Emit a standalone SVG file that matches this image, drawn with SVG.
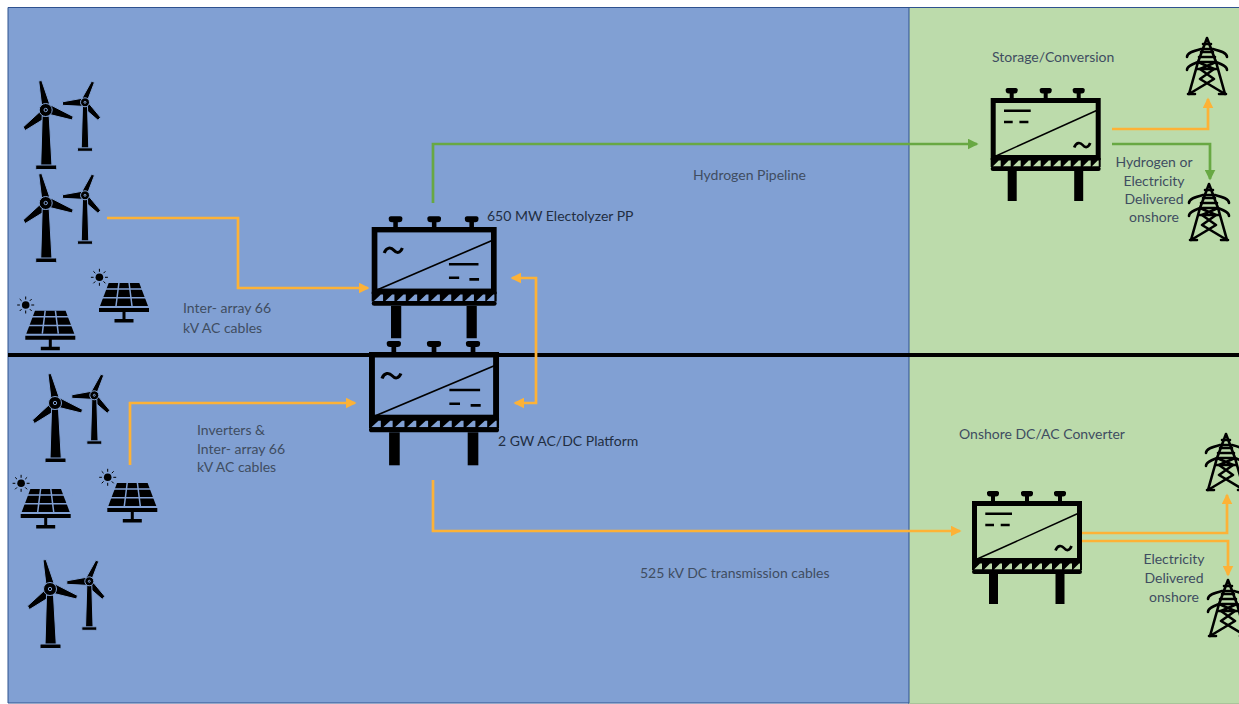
<svg xmlns="http://www.w3.org/2000/svg" width="1239" height="704" viewBox="0 0 1239 704">
<style>
.t{font-family:"Lato","Carlito","Open Sans",sans-serif;font-size:14px;fill:#3f4d61}
.d{fill:#222e42}
.m{text-anchor:middle}
.o,.g{fill:none;stroke-width:2.700}
.o{stroke:#fdb237}
.g{stroke:#68a843}
.blue{fill:#81a0d3;stroke:#81a0d3}
.green{fill:#bcdbab;stroke:#bcdbab}
</style>
<defs>
<marker id="ao" markerWidth="11" markerHeight="11" refX="6" refY="3.500" orient="auto-start-reverse" markerUnits="userSpaceOnUse" viewBox="0 0 7 7"><path d="M0 0L7 3.500L0 7Z" fill="#fdb237"/></marker>
<marker id="ag" markerWidth="11" markerHeight="11" refX="6" refY="3.500" orient="auto-start-reverse" markerUnits="userSpaceOnUse" viewBox="0 0 7 7"><path d="M0 0L7 3.500L0 7Z" fill="#68a843"/></marker>
<g id="turbine">
<g fill="#000">
<path d="M-7 -29L-4 -29.500L4 -6L-4 -4Z"/>
<path d="M5 -5L27.500 6.500L26.500 10L2 4Z"/>
<path d="M-4 0L-22.500 17L-20.500 20.500L3 6Z"/>
<path d="M-3.500 6L3.500 6L6.300 56L-5 56Z"/>
<rect x="-10" y="55" width="21" height="4.500" rx="1"/>
<circle r="6.500"/>
<circle r="3" fill="inherit" stroke="none"/>
<circle r="1.700"/>
</g>
<g fill="#000" transform="translate(39.300 -7.700)">
<path d="M6.500 -21L9.500 -20L3 -3L-3 -4Z"/>
<path d="M-3 -4L-22.500 -0.500L-22.500 3L-3 4Z"/>
<path d="M3 0L15.500 15L13 18L-2 5Z"/>
<path d="M-2.500 4L2.500 4L3.800 47L-3.800 47Z"/>
<rect x="-7.500" y="45.500" width="15" height="3.500" rx="1"/>
<circle r="4.500"/>
<circle r="2" fill="inherit" stroke="none"/>
<circle r="1"/>
</g>
</g>
<g id="solar">
<circle cx="0.400" cy="-5.700" r="3.800" fill="#000" stroke="none"/>
<path d="M0.400 -14.200V-11.200M0.400 -0.200V2.800M-8.100 -5.700H-5.400M6 -5.700H8.900M-5.600 -11.700L-3.700 -9.800M4.500 -1.600L6.400 0.300M-5.600 0.300L-3.700 -1.600M4.500 -9.800L6.400 -11.700" stroke="#000" stroke-width="1" fill="none"/>
<path d="M9.700 0H40.300L49 23H1Z" fill="#000" stroke="none"/>
<path d="M-1 6H52M-1 14.700H52M19.900 0L17 23M30.100 0L33 23" fill="none" stroke-width="1.500" stroke="inherit"/>
<path d="M0 25H50V29H0ZM23.500 29H26.500V36H34.500V39.500H15.500V36H23.500Z" fill="#000" stroke="none"/>
</g>
<g id="pylon" fill="none" stroke="#000" stroke-width="2.600" stroke-linejoin="round" stroke-linecap="round">
<path d="M21 1L12 25L3 57L28 42L14 32L30 25M21 1L30 25L39 57L14 42L28 32L12 25"/>
<path d="M2 57H9M33 57H40"/>
<path d="M1 20C1 16 7 14 15 12H27C35 14 41 16 41 20M1 33C1 29 7 27 12 25H30C35 27 41 29 41 33"/>
<path d="M17 7H25M15 15H27M13 20H29M11 32H31"/>
</g>
<g id="base">
<rect x="2.500" y="2.500" width="105" height="57" stroke="#000" stroke-width="5" fill="inherit"/>
<path d="M3 59L107 12" stroke="#000" stroke-width="1.500" fill="none"/>
<path d="M0 60H110V69H0Z" fill="#000" stroke="none"/>
<path d="M2 68.500l6-6h2v6zM12 68.500l6-6h2v6zM22 68.500l6-6h2v6zM32 68.500l6-6h2v6zM42 68.500l6-6h2v6zM52 68.500l6-6h2v6zM62 68.500l6-6h2v6zM72 68.500l6-6h2v6zM82 68.500l6-6h2v6zM92 68.500l6-6h2v6zM101 68.500l6-6h1v6z" stroke="none" fill="inherit"/>
<rect x="0" y="68.500" width="110" height="4.500" rx="2.200" fill="#000" stroke="none"/>
<path d="M21 0V-5M55 0V-5M88 0V-5" stroke="#000" stroke-width="4"/>
<path d="M15 -7.500A2 2 0 0 1 17 -10H25A2 2 0 0 1 27 -7.500A3 3 0 0 1 24 -4.500H18A3 3 0 0 1 15 -7.500ZM49 -7.500A2 2 0 0 1 51 -10H59A2 2 0 0 1 61 -7.500A3 3 0 0 1 58 -4.500H52A3 3 0 0 1 49 -7.500ZM82 -7.500A2 2 0 0 1 84 -10H92A2 2 0 0 1 94 -7.500A3 3 0 0 1 91 -4.500H85A3 3 0 0 1 82 -7.500Z" fill="#000" stroke="none"/>
<rect x="17" y="73" width="9" height="30" fill="#000" stroke="none"/>
<rect x="83.500" y="73" width="9" height="30" fill="#000" stroke="none"/>
</g>
<path id="tilde" d="M0 5C2 -0.500 6 -0.500 8.500 2.500S14 5.500 16 0.500" fill="none" stroke="#000" stroke-width="2.700"/>
<g id="convA">
<use href="#base"/>
<use href="#tilde" x="11" y="19"/>
<path d="M68 34.500H94M68 47H77M86 48.500H94.500" stroke="#000" stroke-width="2.400" fill="none"/>
</g>
<g id="convB">
<use href="#base"/>
<use href="#tilde" x="83.500" y="44.500"/>
<path d="M13.300 12.700H40M13.300 24H22M28.700 24H37.700" stroke="#000" stroke-width="2.400" fill="none"/>
</g>
</defs>

<g id="backdrop">
<rect x="0" y="0" width="1239" height="704" fill="#ffffff"/>
<rect x="909" y="7" width="330" height="697" fill="#bcdbab"/>
<rect x="8" y="7" width="901" height="696" fill="#81a0d3"/>
<path d="M1239 7.500H8V703H909M909 7V704" fill="none" stroke="#2f528f" stroke-width="1"/>
<path d="M909 703.500H1239" fill="none" stroke="#a9c49a" stroke-width="1"/>
<rect x="8" y="353" width="1231" height="4" fill="#000"/>
</g>

<g id="connectors">
<path class="o" marker-end="url(#ao)" d="M107 218H238V288H368"/>
<path class="g" marker-end="url(#ag)" d="M433 203V144H977"/>
<path class="o" marker-start="url(#ao)" marker-end="url(#ao)" d="M512 278H536V403H515"/>
<path class="o" marker-end="url(#ao)" d="M130 465V403H355"/>
<path class="o" marker-end="url(#ao)" d="M433 480V531H960"/>
<path class="o" marker-end="url(#ao)" d="M1112 129H1208V99"/>
<path class="g" marker-end="url(#ag)" d="M1112 144H1210V179"/>
<path class="o" marker-end="url(#ao)" d="M1082 533H1227V495"/>
<path class="o" marker-end="url(#ao)" d="M1082 541H1228V575"/>
</g>

<g id="turbines-1"><use href="#turbine" class="blue" transform="translate(45.700 110)"/></g>
<g id="turbines-2"><use href="#turbine" class="blue" transform="translate(45.700 203)"/></g>
<g id="turbines-3"><use href="#turbine" class="blue" transform="translate(55 403)"/></g>
<g id="turbines-4"><use href="#turbine" class="blue" transform="translate(50 589)"/></g>
<g id="solar-1"><use href="#solar" class="blue" transform="translate(25.300 310.700)"/></g>
<g id="solar-2"><use href="#solar" class="blue" transform="translate(99 283)"/></g>
<g id="solar-3"><use href="#solar" class="blue" transform="translate(20.700 489)"/></g>
<g id="solar-4"><use href="#solar" class="blue" transform="translate(107.300 483)"/></g>

<g id="electrolyzer"><use href="#convA" class="blue" transform="translate(371.700 227) scale(1.136 1.08)"/></g>
<g id="platform"><use href="#convA" class="blue" transform="translate(369 352) scale(1.182 1.1)"/></g>
<g id="storage"><use href="#convB" class="green" transform="translate(990.700 98)"/></g>
<g id="onshore-converter"><use href="#convB" class="green" transform="translate(972 501)"/></g>

<g id="pylon-1"><use href="#pylon" transform="translate(1186 37)"/></g>
<g id="pylon-2"><use href="#pylon" transform="translate(1188 183)"/></g>
<g id="pylon-3"><use href="#pylon" transform="translate(1205 433)"/></g>
<g id="pylon-4"><use href="#pylon" transform="translate(1207 579)"/></g>

<g id="labels">
<text class="t" x="992" y="62">Storage/Conversion</text>
<text class="t" x="693" y="180">Hydrogen Pipeline</text>
<text class="t d" x="487" y="221">650 MW Electolyzer PP</text>
<text class="t" x="183" y="313">Inter- array 66</text>
<text class="t" x="183" y="333">kV AC cables</text>
<text class="t" x="197" y="435">Inverters &amp;</text>
<text class="t" x="197" y="454">Inter- array 66</text>
<text class="t" x="197" y="472">kV AC cables</text>
<text class="t d" x="498" y="446">2 GW AC/DC Platform</text>
<text class="t" x="959" y="439">Onshore DC/AC Converter</text>
<text class="t" x="640" y="578">525 kV DC transmission cables</text>
<text class="t m" x="1154" y="167">Hydrogen or</text>
<text class="t m" x="1154" y="186">Electricity</text>
<text class="t m" x="1154" y="204">Delivered</text>
<text class="t m" x="1154" y="222">onshore</text>
<text class="t m" x="1174" y="564">Electricity</text>
<text class="t m" x="1174" y="583">Delivered</text>
<text class="t m" x="1174" y="602">onshore</text>
</g>
</svg>
